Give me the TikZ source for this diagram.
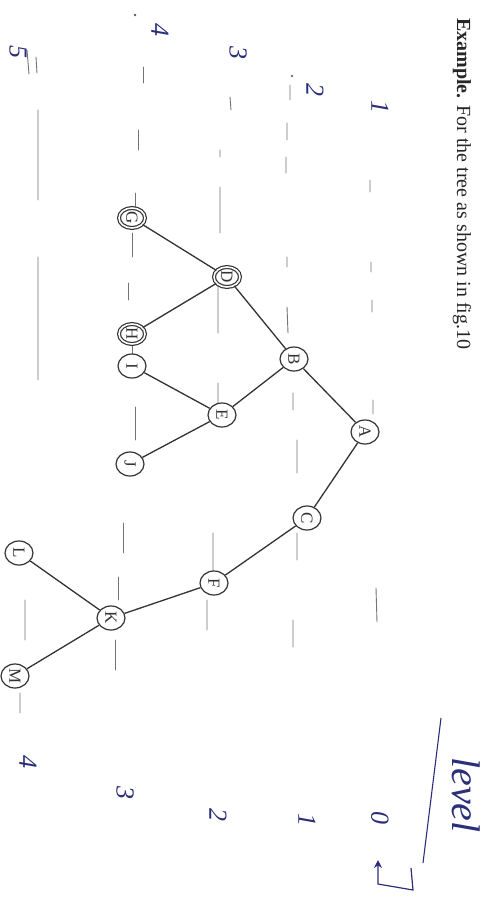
\documentclass[tikz,border=0pt]{standalone}
\usepackage{fontspec}
\setmainfont{Liberation Serif}
\usetikzlibrary{shapes.geometric,arrows.meta}
\definecolor{ink}{HTML}{2B2F7A}
\definecolor{pencil}{HTML}{737373}
\definecolor{edgec}{HTML}{333333}
\begin{document}
\begin{tikzpicture}[x=1pt,y=-1pt,
  tnode/.style={ellipse,draw=edgec,line width=1.2pt,minimum width=28pt,minimum height=24pt,inner sep=0pt,font=\fontsize{17}{17}\selectfont,text=edgec,fill=white},
  dnode/.style={tnode,double=white,double distance=1.6pt,minimum width=26pt,minimum height=20pt},
  tedge/.style={draw=edgec,line width=1.3pt},
  lvl/.style={draw=pencil,line width=0.9pt,line cap=round},
  hand/.style={text=ink,font=\fontsize{26}{26}\selectfont\itshape,rotate=-90,inner sep=0pt}]
\useasboundingbox[fill=white] (0,0) rectangle (485,903);
% caption
\node[rotate=-90,anchor=west,inner sep=0pt,font=\fontsize{20}{24}\selectfont,text=black!85] (cap) at (462,18) {\textbf{Example.} For the tree as shown in fig.10};
% level lines (pencil)
\draw[lvl] (370,180)--(370,192) (371,262)--(371,272) (372,300)--(372,312) (373,400)--(373,414) (376,588)--(377,622);
\fill[pencil] (292,76) circle (1.3pt);
\draw[lvl] (290,85)--(290,100) (287,123)--(287,140) (286,157)--(286,173) (287,257)--(287,267) (287,307)--(288,333) (293,393)--(293,410) (297,440)--(297,473) (297,533)--(297,560) (293,620)--(293,647);
\draw[lvl] (230,97)--(231,110) (220,150)--(220,157) (220,187)--(220,233) (218,283)--(218,333) (218,383)--(218,410) (213,533)--(213,577) (207,600)--(207,630);
\fill[pencil!80!black] (135,15) circle (1.3pt);
\draw[lvl] (143,67)--(143,83) (138,130)--(138,150) (135,193)--(135,207) (132,233)--(132,257) (128,283)--(128,300) (132,343)--(132,357) (135,407)--(135,440) (123,523)--(123,553) (118,577)--(118,600) (115,640)--(115,670);
\draw[lvl] (27,50)--(29,74) (36,57)--(37,73) (38,110)--(38,200) (38,257)--(38,380) (25,600)--(25,640) (20,693)--(20,713);
% level numbers along the lines
\node[hand] (n1) at (380,107) {1};
\node[hand] (n2) at (315,90) {2};
\node[hand] (n3) at (238,53) {3};
\node[hand] (n4) at (160,30) {4};
\node[hand] (n5) at (18,52) {5};
% node positions
\coordinate (cG) at (132,218);
\coordinate (cD) at (227,277);
\coordinate (cH) at (132,334);
\coordinate (cI) at (132,366);
\coordinate (cB) at (294,359);
\coordinate (cE) at (222,415);
\coordinate (cA) at (365,432);
\coordinate (cJ) at (130,464);
\coordinate (cC) at (307,518);
\coordinate (cF) at (214,583);
\coordinate (cL) at (19,553);
\coordinate (cK) at (111,618);
\coordinate (cM) at (15,676);
\node[dnode] (G) at (cG) {\rotatebox{-90}{G}};
\node[dnode] (D) at (cD) {\rotatebox{-90}{D}};
\node[dnode] (H) at (cH) {\rotatebox{-90}{H}};
\node[tnode] (I) at (cI) {\rotatebox{-90}{I}};
\node[tnode] (B) at (cB) {\rotatebox{-90}{B}};
\node[tnode] (E) at (cE) {\rotatebox{-90}{E}};
\node[tnode] (A) at (cA) {\rotatebox{-90}{A}};
\node[tnode] (J) at (cJ) {\rotatebox{-90}{J}};
\node[tnode] (C) at (cC) {\rotatebox{-90}{C}};
\node[tnode] (F) at (cF) {\rotatebox{-90}{F}};
\node[tnode] (L) at (cL) {\rotatebox{-90}{L}};
\node[tnode] (K) at (cK) {\rotatebox{-90}{K}};
\node[tnode] (M) at (cM) {\rotatebox{-90}{M}};
% tree edges
\draw[tedge] (A)--(B) (A)--(C) (B)--(D) (B)--(E) (D)--(G) (D)--(H) (E)--(I) (E)--(J) (C)--(F) (F)--(K) (K)--(L) (K)--(M);
% level legend
\node[hand,font=\fontsize{40}{40}\selectfont\itshape] (lev) at (466,795) {level};
\coordinate (u1) at (441,718);
\coordinate (u2) at (423,863);
\draw[ink,line width=1.1pt] (u1)--(u2);
\coordinate (h1) at (411,868);
\coordinate (h2) at (413,890);
\coordinate (h3) at (378,884);
\coordinate (h4) at (378,860);
\draw[ink,line width=1.2pt,-{Stealth[length=8pt,width=8pt]}] (h1)--(h2)--(h3)--(h4);
\node[hand] (l0) at (380,818) {0};
\node[hand] (l1) at (307,820) {1};
\node[hand] (l2) at (218,815) {2};
\node[hand] (l3) at (125,793) {3};
\node[hand] (l4) at (28,762) {4};
\end{tikzpicture}
\end{document}
